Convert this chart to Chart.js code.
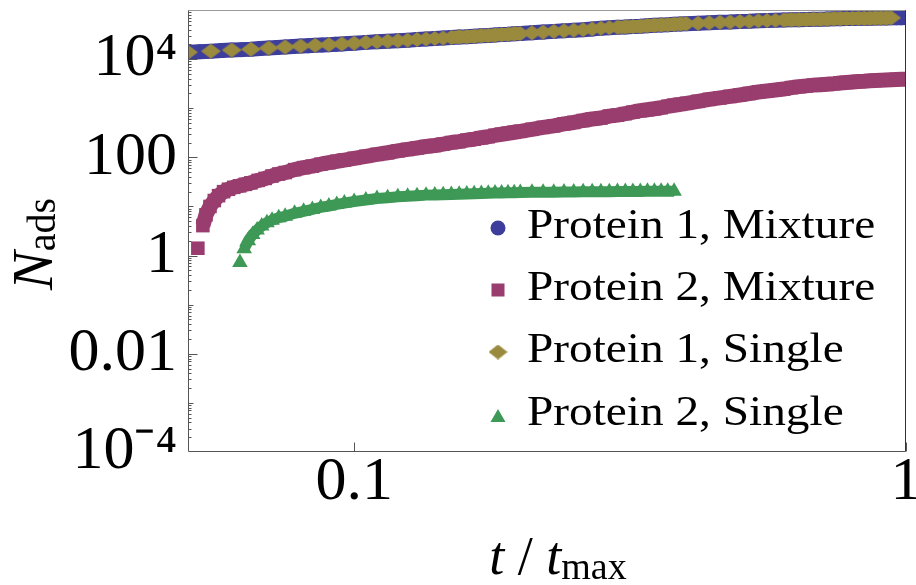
<!DOCTYPE html>
<html>
<head>
<meta charset="utf-8">
<script src="https://cdn.jsdelivr.net/npm/chart.js@4.4.1/dist/chart.umd.min.js"></script>
<style>
    html, body { margin: 0; padding: 0; background: #fff; }
</style>
</head>
<body>
<canvas id="adsChart" width="916" height="585"></canvas>
<script>
// --- data (t / t_max , N_ads) ---
const tP1Mix = [0.05, 0.0525, 0.055, 0.0575, 0.06, 0.0625, 0.065, 0.0675, 0.07, 0.0725,
    0.075, 0.0775, 0.08, 0.0825, 0.085, 0.0875, 0.09, 0.0925, 0.095, 0.0975,
    0.1, 0.105, 0.11, 0.115, 0.12, 0.125, 0.13, 0.135, 0.14, 0.145,
    0.15, 0.155, 0.16, 0.165, 0.17, 0.175, 0.18, 0.185, 0.19, 0.195, 0.2,
    0.21, 0.22, 0.23, 0.24, 0.25, 0.26, 0.27, 0.28, 0.29, 0.3,
    0.31, 0.32, 0.33, 0.34, 0.35, 0.36, 0.37, 0.38, 0.39, 0.4,
    0.42, 0.44, 0.46, 0.48, 0.5, 0.52, 0.54, 0.56, 0.58, 0.6,
    0.62, 0.64, 0.66, 0.68, 0.7, 0.72, 0.74, 0.76, 0.78, 0.8,
    0.82, 0.84, 0.86, 0.88, 0.9, 0.92, 0.94, 0.96, 0.98, 1.0];
const nP1Mix = [13800, 14100, 14500, 14900, 15300, 15600, 15900, 16400, 16800, 17200,
    17600, 18000, 18400, 18700, 19100, 19400, 19700, 20000, 20400, 20700,
    21100, 21900, 22600, 23200, 23700, 24300, 25100, 25700, 26300, 26900,
    27500, 28200, 28500, 29200, 29900, 30200, 30900, 31600, 32000, 32700, 33100,
    34300, 35500, 36700, 37600, 38900, 39800, 41200, 42700, 43700, 44700,
    45200, 46200, 46800, 47900, 49000, 49600, 50100, 51300, 51900, 52500,
    53700, 55000, 56200, 56900, 58200, 58900, 60300, 61000, 61700, 62400,
    63100, 63300, 63800, 64600, 64800, 65300, 66100, 66300, 66800, 67000,
    67600, 67700, 67800, 68400, 68500, 68600, 69200, 69400, 69600, 70000];

const tP2Mix = [0.0521, 0.0532, 0.0539, 0.0548, 0.0558, 0.0568, 0.058, 0.0592, 0.0605, 0.062,
    0.0635, 0.065, 0.067, 0.069, 0.071, 0.073, 0.075, 0.078, 0.081, 0.084,
    0.087, 0.09, 0.093, 0.096,
    0.1, 0.105, 0.11, 0.115, 0.12, 0.125, 0.13, 0.135, 0.14, 0.145,
    0.15, 0.155, 0.16, 0.165, 0.17, 0.175, 0.18, 0.185, 0.19, 0.195, 0.2,
    0.21, 0.22, 0.23, 0.24, 0.25, 0.26, 0.27, 0.28, 0.29, 0.3,
    0.31, 0.32, 0.33, 0.34, 0.35, 0.36, 0.37, 0.38, 0.39, 0.4,
    0.42, 0.44, 0.46, 0.48, 0.5, 0.52, 0.54, 0.56, 0.58, 0.6,
    0.62, 0.64, 0.66, 0.68, 0.7, 0.72, 0.74, 0.76, 0.78, 0.8,
    0.82, 0.84, 0.86, 0.88, 0.9, 0.92, 0.94, 0.96, 0.98, 1.0];
const nP2Mix = [1.41, 4.07, 6.76, 10, 13.2, 16.6, 20, 22.4, 24.5, 26.3,
    28.2, 30.2, 33.9, 37.2, 41.7, 45.7, 49, 56.2, 61.7, 66.1,
    72.4, 77.6, 83.2, 88.1,
    95.5, 105, 115, 124, 135, 145, 155, 166, 174, 186,
    200, 209, 224, 234, 251, 263, 282, 295, 309, 324, 339,
    372, 407, 437, 479, 513, 562, 603, 631, 692, 724,
    776, 832, 891, 933, 977, 1023, 1096, 1148, 1202, 1259,
    1380, 1514, 1622, 1738, 1862, 1995, 2138, 2239, 2344, 2455,
    2630, 2754, 2851, 2951, 3020, 3090, 3162, 3273, 3350, 3428,
    3508, 3548, 3631, 3673, 3715, 3758, 3802, 3846, 3890, 3890];

const tP1Single = [0.05, 0.055, 0.06, 0.065, 0.07, 0.075, 0.08, 0.085, 0.09, 0.095,
    0.1, 0.105, 0.11, 0.115, 0.12, 0.125, 0.13, 0.135, 0.14, 0.145,
    0.15, 0.155, 0.16, 0.165, 0.17, 0.175, 0.18, 0.185, 0.19, 0.195, 0.2,
    0.21, 0.22, 0.23, 0.24, 0.25, 0.26, 0.27, 0.28, 0.29, 0.3,
    0.31, 0.32, 0.33, 0.34, 0.35, 0.36, 0.37, 0.38, 0.39, 0.4,
    0.42, 0.44, 0.46, 0.48, 0.5, 0.52, 0.54, 0.56, 0.58, 0.6,
    0.62, 0.64, 0.66, 0.68, 0.7, 0.72, 0.74, 0.76, 0.78, 0.8,
    0.82, 0.84, 0.86, 0.88, 0.9, 0.92, 0.94];
const nP1Single = [13800, 14500, 15300, 15900, 16800, 17600, 18400, 19100, 19700, 20400,
    21100, 21900, 22600, 23200, 23700, 24300, 25100, 25700, 26300, 26900,
    27500, 28200, 28500, 29200, 29900, 30200, 30900, 31600, 32000, 32700, 33100,
    34300, 35500, 36700, 37600, 38900, 39800, 41200, 42700, 43700, 44700,
    45200, 46200, 46800, 47900, 49000, 49600, 50100, 51300, 51900, 52500,
    53700, 55000, 56200, 56900, 58200, 58900, 60300, 61000, 61700, 62400,
    63100, 63300, 63800, 64600, 64800, 65300, 66100, 66300, 66800, 67000,
    67600, 67700, 67800, 68400, 68500, 68600, 69200];

const tP2Single = [0.0621, 0.0632, 0.0643, 0.0655, 0.0667, 0.068, 0.0695, 0.071, 0.073, 0.075,
    0.078, 0.081, 0.084, 0.087, 0.09, 0.093, 0.096,
    0.1, 0.105, 0.11, 0.115, 0.12, 0.125, 0.13, 0.135, 0.14, 0.145,
    0.15, 0.155, 0.16, 0.165, 0.17, 0.175, 0.18, 0.185, 0.19, 0.195, 0.2,
    0.21, 0.22, 0.23, 0.24, 0.25, 0.26, 0.27, 0.28, 0.29, 0.3,
    0.31, 0.32, 0.33, 0.34, 0.35, 0.36, 0.37, 0.38];
const nP2Single = [0.72, 1.38, 2.0, 2.69, 3.31, 3.98, 4.68, 5.25, 5.89, 6.31,
    7.24, 7.94, 8.71, 9.55, 10.2, 11.0, 11.7,
    12.6, 13.5, 14.5, 15.1, 15.8, 16.2, 16.6, 17.0, 17.2, 17.4,
    17.6, 17.8, 18.0, 18.2, 18.4, 18.6, 18.8, 18.8, 19.1, 19.1, 19.3,
    19.5, 19.5, 19.5, 19.7, 19.7, 20.0, 20.0, 20.0, 20.0, 20.2,
    20.2, 20.2, 20.2, 20.4, 20.4, 20.4, 20.4, 20.4];

const seriesNames = ['Protein 1, Mixture', 'Protein 2, Mixture', 'Protein 1, Single', 'Protein 2, Single'];
const seriesColors = ['#3d3d9c', '#993d6e', '#998a3d', '#3d9955'];

const xTickValues = [0.1, 1];
const xTickLabels = ['0.1', '1'];
const yTickValues = [1e-4, 1e-2, 1, 100, 1e4];
const yTickLabels = ['10⁻⁴', '0.01', '1', '100', '10⁴'];

// --- helpers ---
const SERIF = "'Liberation Serif', 'Times New Roman', serif";

function toPoints(ts, ns) {
    return ns.map((n, i) => ({ x: ts[i], y: n }));
}

// markers packed this tight read as a solid band: fill the gaps between
// neighbouring markers, but leave sparse stretches as single markers
function bandSegments(color, maxGap) {
    return {
        borderColor: (ctx) => {
            const d = Math.hypot(ctx.p1.x - ctx.p0.x, ctx.p1.y - ctx.p0.y);
            return d > maxGap ? 'rgba(0,0,0,0)' : color;
        }
    };
}

// diamond marker (wider than tall, like the original)
function diamondImage(w, h, color) {
    const c = document.createElement('canvas');
    c.width = w;
    c.height = h;
    const g = c.getContext('2d');
    g.fillStyle = color;
    g.beginPath();
    g.moveTo(w / 2, 0);
    g.lineTo(w, h / 2);
    g.lineTo(w / 2, h);
    g.lineTo(0, h / 2);
    g.closePath();
    g.fill();
    return c;
}

const diamond = diamondImage(20, 15, seriesColors[2]);

// draw a run of text pieces (normal / italic / subscript) one after another
function drawPieces(ctx, pieces, x, y) {
    let total = 0;
    pieces.forEach(p => {
        ctx.font = p.font;
        total += ctx.measureText(p.text).width;
    });
    let cx = x - total / 2;
    pieces.forEach(p => {
        ctx.font = p.font;
        ctx.fillText(p.text, cx, y + (p.dy || 0));
        cx += ctx.measureText(p.text).width;
    });
}

// frame, inward ticks, axis titles and legend
const decorations = {
    id: 'decorations',
    afterDraw(chart) {
        const ctx = chart.ctx;
        const area = chart.chartArea;
        const xs = chart.scales.x;
        const ys = chart.scales.y;
        const L = Math.round(area.left) + 0.5;
        const R = Math.round(area.right) - 0.5;
        const T = Math.round(area.top) + 0.5;
        const B = Math.round(area.bottom) - 0.5;

        ctx.save();
        ctx.lineWidth = 1;

        // frame
        ctx.strokeStyle = '#999';
        ctx.beginPath();
        ctx.moveTo(L, T); ctx.lineTo(R, T);
        ctx.stroke();
        ctx.strokeStyle = '#333';
        ctx.beginPath();
        ctx.moveTo(R, T); ctx.lineTo(R, B);
        ctx.stroke();
        ctx.strokeStyle = '#555';
        ctx.beginPath();
        ctx.moveTo(L, T); ctx.lineTo(L, B); ctx.lineTo(R, B);
        ctx.stroke();

        // y ticks (pointing into the plot)
        ctx.beginPath();
        for (let e = -4; e <= 4; e++) {
            for (let m = 1; m <= 9; m++) {
                const v = m * Math.pow(10, e);
                const py = Math.round(ys.getPixelForValue(v)) + 0.5;
                if (py < area.top || py > area.bottom) continue;
                let len = 3;
                if (m === 1) len = yTickValues.includes(v) ? 9 : 5;
                ctx.moveTo(L, py);
                ctx.lineTo(L + len, py);
            }
        }
        // x ticks
        xTickValues.forEach(v => {
            const px = Math.round(xs.getPixelForValue(v)) + 0.5;
            ctx.moveTo(px, B);
            ctx.lineTo(px, B - 9);
        });
        ctx.stroke();

        ctx.fillStyle = '#000';
        ctx.textBaseline = 'alphabetic';
        ctx.textAlign = 'left';

        // x title: t / t_max
        drawPieces(ctx, [
            { text: 't', font: 'italic 54px ' + SERIF },
            { text: ' / ', font: '54px ' + SERIF },
            { text: 't', font: 'italic 54px ' + SERIF },
            { text: 'max', font: '38px ' + SERIF, dy: 5 }
        ], 558, 574);

        // y title: N_ads (rotated)
        ctx.save();
        ctx.translate(52, 244);
        ctx.rotate(-Math.PI / 2);
        drawPieces(ctx, [
            { text: 'N', font: 'italic 58px ' + SERIF },
            { text: 'ads', font: '40px ' + SERIF, dy: 3 }
        ], 0, 0);
        ctx.restore();

        // legend
        const legendX = 498;
        const textX = 527;
        const baselines = [238, 300, 362, 425];
        baselines.forEach((by, i) => {
            const color = seriesColors[i];
            ctx.fillStyle = color;
            if (i === 0) {
                ctx.beginPath();
                ctx.arc(legendX, by - 10, 7.5, 0, Math.PI * 2);
                ctx.fill();
            } else if (i === 1) {
                ctx.fillRect(legendX - 6.5, by - 16.5, 13, 13);
            } else if (i === 2) {
                ctx.drawImage(diamondImage(19, 15, color), legendX - 9.5, by - 17.5);
            } else {
                ctx.beginPath();
                ctx.moveTo(legendX, by - 16);
                ctx.lineTo(legendX + 7.5, by - 3);
                ctx.lineTo(legendX - 7.5, by - 3);
                ctx.closePath();
                ctx.fill();
            }
            ctx.fillStyle = '#000';
            ctx.font = '43px ' + SERIF;
            ctx.save();
            ctx.translate(textX, by);
            ctx.scale(1.1, 1);
            ctx.fillText(seriesNames[i], 0, 0);
            ctx.restore();
        });

        ctx.restore();
    }
};

const tickFont = { family: SERIF, size: 62, lineHeight: 1 };

const chart = new Chart(document.getElementById('adsChart').getContext('2d'), {
    type: 'scatter',
    data: {
        datasets: [
            {
                label: seriesNames[0],
                data: toPoints(tP1Mix, nP1Mix),
                showLine: true,
                borderColor: seriesColors[0],
                borderWidth: 15,
                borderJoinStyle: 'round',
                segment: bandSegments(seriesColors[0], 1000),
                pointStyle: 'circle',
                pointRadius: 7.5,
                pointBackgroundColor: seriesColors[0],
                pointBorderWidth: 0,
                order: 4,
                clip: 0
            },
            {
                label: seriesNames[1],
                data: toPoints(tP2Mix, nP2Mix),
                showLine: true,
                borderColor: seriesColors[1],
                borderWidth: 15,
                borderJoinStyle: 'round',
                segment: bandSegments(seriesColors[1], 12),
                pointStyle: 'rect',
                pointRadius: 9.6,
                pointBackgroundColor: seriesColors[1],
                pointBorderWidth: 0,
                order: 3,
                clip: 0
            },
            {
                label: seriesNames[2],
                data: toPoints(tP1Single, nP1Single),
                showLine: true,
                borderColor: seriesColors[2],
                borderWidth: 13,
                borderJoinStyle: 'round',
                segment: bandSegments(seriesColors[2], 8),
                pointStyle: diamond,
                pointRadius: 8,
                pointBackgroundColor: seriesColors[2],
                pointBorderWidth: 0,
                order: 1,
                clip: 0
            },
            {
                label: seriesNames[3],
                data: toPoints(tP2Single, nP2Single),
                showLine: true,
                borderColor: seriesColors[3],
                borderWidth: 11,
                borderJoinStyle: 'round',
                segment: bandSegments(seriesColors[3], 12),
                pointStyle: 'triangle',
                pointRadius: 9,
                pointBackgroundColor: seriesColors[3],
                pointBorderWidth: 0,
                order: 2,
                clip: 0
            }
        ]
    },
    options: {
        responsive: false,
        animation: false,
        devicePixelRatio: 1,
        layout: { padding: { top: 10, right: 10, bottom: 0, left: 0 } },
        plugins: {
            legend: { display: false },
            tooltip: { enabled: false }
        },
        scales: {
            x: {
                type: 'logarithmic',
                min: 0.05,
                max: 1,
                grid: { display: false, drawTicks: false },
                border: { display: false },
                afterBuildTicks: (scale) => {
                    scale.ticks = xTickValues.map(v => ({ value: v }));
                },
                afterFit: (scale) => {
                    scale.height = 133;
                    scale.paddingLeft = 0;
                    scale.paddingRight = 0;
                },
                ticks: {
                    autoSkip: false,
                    maxRotation: 0,
                    padding: 0,
                    color: '#000',
                    font: tickFont,
                    callback: (v) => {
                        const i = xTickValues.indexOf(v);
                        return i >= 0 ? xTickLabels[i] : '';
                    }
                }
            },
            y: {
                type: 'logarithmic',
                min: 1e-4,
                max: 1e5,
                grid: { display: false, drawTicks: false },
                border: { display: false },
                afterBuildTicks: (scale) => {
                    scale.ticks = yTickValues.map(v => ({ value: v }));
                },
                afterFit: (scale) => {
                    scale.width = 188;
                    scale.paddingTop = 0;
                    scale.paddingBottom = 0;
                },
                ticks: {
                    autoSkip: false,
                    padding: 11,
                    color: '#000',
                    font: tickFont,
                    callback: (v) => {
                        const i = yTickValues.indexOf(v);
                        return i >= 0 ? yTickLabels[i] : '';
                    }
                }
            }
        }
    },
    plugins: [decorations]
});
</script>
</body>
</html>
